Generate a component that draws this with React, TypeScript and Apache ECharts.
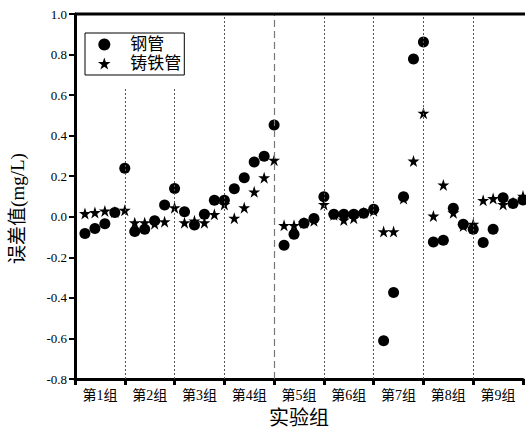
import React, { useEffect, useRef } from 'react';
import * as echarts from 'echarts';

const groups = ['第1组', '第2组', '第3组', '第4组', '第5组', '第6组', '第7组', '第8组', '第9组'];

const steelPipe = [
  -0.083, -0.058, -0.034, 0.021, 0.239,
  -0.073, -0.061, -0.020, 0.058, 0.139,
  0.025, -0.040, 0.012, 0.081, 0.081,
  0.138, 0.193, 0.270, 0.299, 0.453,
  -0.140, -0.086, -0.032, -0.009, 0.099,
  0.012, 0.012, 0.012, 0.017, 0.037,
  -0.611, -0.373, 0.099, 0.778, 0.862,
  -0.124, -0.116, 0.042, -0.037, -0.061,
  -0.127, -0.061, 0.094, 0.066, 0.083,
];

const castIronPipe = [
  0.016, 0.021, 0.029, 0.024, 0.032,
  -0.029, -0.029, -0.034, -0.024, 0.045,
  -0.029, -0.020, -0.029, 0.012, 0.061,
  -0.007, 0.045, 0.123, 0.193, 0.279,
  -0.042, -0.042, -0.030, -0.020, 0.061,
  0.010, -0.016, -0.007, 0.020, 0.030,
  -0.073, -0.073, 0.090, 0.275, 0.511,
  0.004, 0.157, 0.020, -0.045, -0.037,
  0.081, 0.090, 0.061, 0.070, 0.102,
];

const groupBoundaries = [5, 10, 15, 20, 25, 30, 35, 40];
const frameTop = [[0, 1.0], [45.3, 1.0]];

const STAR =
  'path://M100 0 L122.45 69.1 L195.1 69.1 L136.33 111.8 L158.8 180.9 L100 138.2 L41.2 180.9 L63.67 111.8 L4.9 69.1 L77.55 69.1 Z';
const FONT = "'Liberation Serif', 'Noto Sans CJK SC', serif";

export default function App() {
  const ref = useRef<HTMLDivElement>(null);
  useEffect(() => {
    const chart = echarts.init(ref.current!, null, { renderer: 'svg' });
    const boundaryLines: any[] = groupBoundaries.map((b) => [
      {
        coord: [b, -0.8],
        lineStyle:
          b === 20
            ? { type: [7, 4], color: '#777', width: 1.2 }
            : { type: [2, 2], color: '#555', width: 1 },
      },
      { coord: [b, b <= 10 ? 0.64 : 1.0] },
    ]);
    chart.setOption({
      animation: false,
      backgroundColor: '#fff',
      textStyle: { fontFamily: FONT },
      grid: { left: 70, right: 3, top: 14, bottom: 53 },
      legend: {
        data: [
          { name: '钢管', icon: 'circle' },
          { name: '铸铁管', icon: STAR },
        ],
        orient: 'vertical',
        left: 85,
        top: 33,
        padding: [3, 3, 3, 13],
        itemGap: 2,
        itemWidth: 42,
        itemHeight: 12,
        borderColor: '#000',
        borderWidth: 1,
        backgroundColor: '#fff',
        textStyle: { fontSize: 17, color: '#000', fontFamily: FONT },
      },
      xAxis: [
        {
          type: 'value',
          min: 0,
          max: 45,
          interval: 5,
          position: 'bottom',
          axisLine: { show: true, onZero: false, lineStyle: { color: '#000', width: 3 } },
          axisTick: { show: true, length: 6, lineStyle: { color: '#000', width: 3 } },
          axisLabel: { show: false },
          splitLine: { show: false },
          name: '实验组',
          nameLocation: 'middle',
          nameGap: 29,
          nameTextStyle: { fontSize: 20, color: '#000', fontFamily: FONT },
        },
        {
          type: 'category',
          data: groups,
          position: 'bottom',
          boundaryGap: true,
          axisLine: { show: false },
          axisTick: { show: false },
          axisLabel: { color: '#000', fontSize: 14, margin: 9, fontFamily: FONT },
        },
      ],
      yAxis: {
        type: 'value',
        min: -0.8,
        max: 1.0,
        interval: 0.2,
        axisLine: { show: true, onZero: false, lineStyle: { color: '#000', width: 3 } },
        axisTick: { show: true, length: 6, lineStyle: { color: '#000', width: 2 } },
        axisLabel: {
          color: '#000',
          fontSize: 13,
          margin: 8,
          fontFamily: FONT,
          formatter: (v: number) => (Math.abs(v) < 1e-9 ? '0.0' : v.toFixed(1)),
        },
        splitLine: { show: false },
        name: '误差值(mg/L)',
        nameLocation: 'middle',
        nameGap: 48,
        nameTextStyle: { fontSize: 19, color: '#000', fontFamily: FONT, padding: [0, 24, 0, 0] },
      },
      series: [
        {
          type: 'scatter',
          name: '钢管',
          xAxisIndex: 0,
          symbol: 'circle',
          symbolSize: 11,
          itemStyle: { color: '#000', opacity: 1 },
          data: steelPipe.map((v, i) => [i + 1, v]),
          markLine: {
            silent: true,
            symbol: ['none', 'none'],
            label: { show: false },
            data: boundaryLines,
          },
        },
        {
          type: 'scatter',
          name: '铸铁管',
          xAxisIndex: 0,
          symbol: STAR,
          symbolSize: 12,
          itemStyle: { color: '#000', opacity: 1 },
          data: castIronPipe.map((v, i) => [i + 1, v]),
        },
        {
          type: 'line',
          name: 'frame',
          xAxisIndex: 0,
          silent: true,
          clip: false,
          z: 20,
          showSymbol: false,
          symbol: 'none',
          lineStyle: { color: '#000', width: 3, type: 'solid', opacity: 1 },
          data: frameTop,
        },
      ],
    });
    return () => chart.dispose();
  }, []);
  return <div ref={ref} style={{ width: 526, height: 433, position: 'absolute', left: 0, top: 0 }} />;
}
